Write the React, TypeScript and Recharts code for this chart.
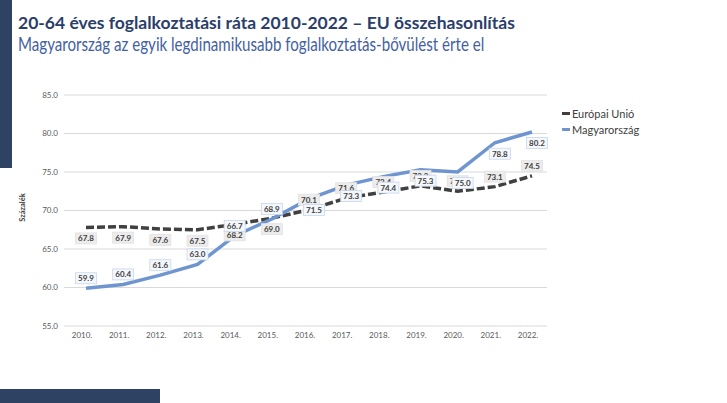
import { LineChart, Line, XAxis, YAxis, CartesianGrid, LabelList } from "recharts";

const YEARS = ["2010.", "2011.", "2012.", "2013.", "2014.", "2015.", "2016.", "2017.", "2018.", "2019.", "2020.", "2021.", "2022."];
const EU_VALUES = [67.8, 67.9, 67.6, 67.5, 68.2, 69.0, 70.1, 71.6, 72.4, 73.2, 72.5, 73.1, 74.5];
const HU_VALUES = [59.9, 60.4, 61.6, 63.0, 66.7, 68.9, 71.5, 73.3, 74.4, 75.3, 75.0, 78.8, 80.2];
const Y_TICKS = [55, 60, 65, 70, 75, 80, 85];
const SERIES_NAMES = ["Európai Unió", "Magyarország"];

const NAVY = "#2e4263";
const EU_COLOR = "#404040";
const HU_COLOR = "#6f95d0";
const FONT = "Lato, 'Open Sans', sans-serif";

const data = YEARS.map((year, i) => ({ year, eu: EU_VALUES[i], hu: HU_VALUES[i] }));

// labels sit between the two lines: on the side facing the other series
function makeLabel(series: "eu" | "hu") {
  return (props: any) => {
    const { x, y, value, index } = props;
    const huAbove = HU_VALUES[index] > EU_VALUES[index];
    const above = series === "hu" ? !huAbove : huAbove;
    const cy = y + (above ? -10 : 11);
    const cx = x + (series === "hu" && huAbove ? 5 : 0);
    const w = 21;
    const h = 11;
    return (
      <g>
        <rect
          x={cx - w / 2}
          y={cy - h / 2}
          width={w}
          height={h}
          fill={series === "eu" ? "#ececec" : "#f4f7fc"}
          stroke={series === "eu" ? "#e2e2e2" : "#c8d6ec"}
          strokeWidth={0.8}
        />
        <text
          x={cx}
          y={cy}
          textAnchor="middle"
          dominantBaseline="central"
          fontSize={8}
          fontWeight={700}
          fill="#404040"
          fontFamily={FONT}
        >
          {Number(value).toFixed(1)}
        </text>
      </g>
    );
  };
}

function LegendBox() {
  const colors = [EU_COLOR, HU_COLOR];
  return (
    <div style={{ position: "absolute", left: 562, top: 105, fontFamily: FONT, fontSize: 11, color: "#404040" }}>
      {SERIES_NAMES.map((name, i) => (
        <div key={name} style={{ display: "flex", alignItems: "center", height: 16 }}>
          <span style={{ display: "inline-block", width: 8, height: 3, background: colors[i], marginRight: 2 }} />
          {name}
        </div>
      ))}
    </div>
  );
}

function AxisTitle(props: any) {
  const { viewBox } = props;
  const x = viewBox.x + 8;
  const y = viewBox.y + viewBox.height / 2 - 3;
  return (
    <text
      x={x}
      y={y}
      transform={`rotate(-90, ${x}, ${y})`}
      textAnchor="middle"
      dominantBaseline="central"
      fontSize={7.5}
      fontWeight={700}
      fill="#404040"
      fontFamily={FONT}
    >
      Százalék
    </text>
  );
}

export default function App() {
  return (
    <div style={{ position: "absolute", left: 0, top: 0, width: 727, height: 403, background: "#fff", overflow: "hidden", fontFamily: FONT }}>
      <div style={{ position: "absolute", left: 0, top: 0, width: 12, height: 168, background: NAVY }} />
      <div style={{ position: "absolute", left: 0, top: 389, width: 160, height: 14, background: NAVY }} />
      <div style={{ position: "absolute", left: 18, top: 14, fontSize: 17.5, lineHeight: 1, fontWeight: 700, color: "#2b3e6b", whiteSpace: "nowrap" }}>
        20-64 éves foglalkoztatási ráta 2010-2022 – EU összehasonlítás
      </div>
      <div style={{ position: "absolute", left: 18, top: 33, fontSize: 20, lineHeight: 1, color: "#4361a1", whiteSpace: "nowrap", transform: "scaleX(0.755)", transformOrigin: "0 0" }}>
        Magyarország az egyik legdinamikusabb foglalkoztatás-bővülést érte el
      </div>
      <div style={{ position: "absolute", left: 0, top: 0 }}>
        <LineChart width={727} height={403} data={data} margin={{ top: 95, right: 180, bottom: 47, left: 14 }}>
          <CartesianGrid vertical={false} stroke="#d9d9d9" />
          <XAxis
            dataKey="year"
            padding={{ left: 22, right: 15 }}
            axisLine={false}
            tickLine={false}
            tickSize={4}
            tick={{ fontSize: 8, fill: "#595959", fontFamily: FONT, dx: -4 }}
            interval={0}
          />
          <YAxis
            width={50}
            domain={[55, 85]}
            ticks={Y_TICKS}
            axisLine={false}
            tickLine={false}
            tickSize={4}
            tickFormatter={(v: number) => v.toFixed(1)}
            tick={{ fontSize: 8, fill: "#595959", fontFamily: FONT }}
            label={<AxisTitle />}
          />
          <Line
            name={SERIES_NAMES[0]}
            dataKey="eu"
            stroke={EU_COLOR}
            strokeWidth={3.5}
            strokeDasharray="8 3"
            dot={false}
            isAnimationActive={false}
          >
            <LabelList dataKey="eu" content={makeLabel("eu")} />
          </Line>
          <Line
            name={SERIES_NAMES[1]}
            dataKey="hu"
            stroke={HU_COLOR}
            strokeWidth={3.5}
            dot={false}
            isAnimationActive={false}
          >
            <LabelList dataKey="hu" content={makeLabel("hu")} />
          </Line>
        </LineChart>
      </div>
      <LegendBox />
    </div>
  );
}
